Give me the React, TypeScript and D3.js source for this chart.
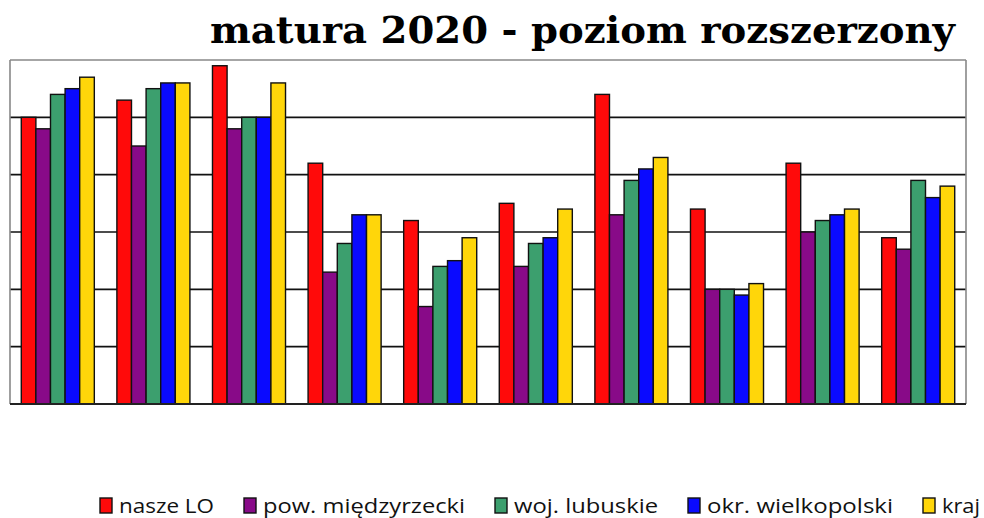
import React, { useEffect, useRef } from 'react'
import * as d3 from 'd3'

const categories = ['1', '2', '3', '4', '5', '6', '7', '8', '9', '10']
const seriesNames = ['nasze LO', 'pow. międzyrzecki', 'woj. lubuskie', 'okr. wielkopolski', 'kraj']
const naszeLO = [50, 53, 59, 42, 32, 35, 54, 34, 42, 29]
const powMiedzyrzecki = [48, 45, 48, 23, 17, 24, 33, 20, 30, 27]
const wojLubuskie = [54, 55, 50, 28, 24, 28, 39, 20, 32, 39]
const okrWielkopolski = [55, 56, 50, 33, 25, 29, 41, 19, 33, 36]
const kraj = [57, 56, 56, 33, 29, 34, 43, 21, 34, 38]
const yTicks = [0, 10, 20, 30, 40, 50, 60]
const colors = ['#ff0a0a', '#880a88', '#3c9f6e', '#0a0aff', '#ffd60a']

// legend marker x positions, as laid out in the original
const legendX = [100, 244, 495, 688, 923]

export default function App () {
  const ref = useRef<SVGSVGElement>(null)

  useEffect(() => {
    const values = [naszeLO, powMiedzyrzecki, wojLubuskie, okrWielkopolski, kraj]
    const svg = d3.select(ref.current)
    svg.selectAll('*').remove()

    const left = 10, right = 966, top = 60, bottom = 404

    const x0 = d3.scaleBand().domain(categories).range([left, right]).paddingInner(0.236).paddingOuter(0.118)
    const x1 = d3.scaleBand().domain(seriesNames).range([0, x0.bandwidth()])
    const y = d3.scaleLinear().domain([0, 60]).range([bottom, top])

    // frame + gridlines
    const grid = svg.append('g')
    grid.selectAll('line.grid')
      .data(yTicks.slice(1, -1))
      .enter().append('line')
      .attr('x1', left).attr('x2', right)
      .attr('y1', d => y(d)).attr('y2', d => y(d))
      .attr('stroke', '#111').attr('stroke-width', 1.6)
    grid.append('line').attr('x1', left).attr('x2', right).attr('y1', top).attr('y2', top)
      .attr('stroke', '#888').attr('stroke-width', 1.6)
    grid.append('line').attr('x1', left).attr('x2', left).attr('y1', top).attr('y2', bottom)
      .attr('stroke', '#888').attr('stroke-width', 1.6)
    grid.append('line').attr('x1', right).attr('x2', right).attr('y1', top).attr('y2', bottom)
      .attr('stroke', '#888').attr('stroke-width', 1.6)

    // bars
    const groups = svg.append('g').selectAll('g')
      .data(categories)
      .enter().append('g')
      .attr('transform', d => `translate(${x0(d)},0)`)
    groups.selectAll('rect')
      .data((c, ci) => seriesNames.map((s, si) => ({ s, si, v: values[si][ci] })))
      .enter().append('rect')
      .attr('x', d => x1(d.s)!)
      .attr('width', x1.bandwidth())
      .attr('y', d => y(d.v))
      .attr('height', d => y(0) - y(d.v))
      .attr('fill', d => colors[d.si])
      .attr('stroke', '#111').attr('stroke-width', 1.4)

    svg.append('line').attr('x1', left).attr('x2', right).attr('y1', bottom).attr('y2', bottom)
      .attr('stroke', '#222').attr('stroke-width', 1.8)

    // title
    svg.append('text')
      .attr('x', 210).attr('y', 43)
      .attr('font-family', 'DejaVu Serif').attr('font-weight', 'bold').attr('font-size', 37)
      .attr('textLength', 745).attr('lengthAdjust', 'spacingAndGlyphs')
      .text('matura 2020 - poziom rozszerzony')

    // legend
    const legend = svg.append('g')
    seriesNames.forEach((name, i) => {
      const g = legend.append('g').attr('transform', `translate(${legendX[i]},0)`)
      g.append('rect').attr('width', 12).attr('height', 15).attr('y', 498)
        .attr('fill', colors[i]).attr('stroke', '#111').attr('stroke-width', 1.4)
      const next = i < legendX.length - 1 ? legendX[i + 1] - 30 : 980
      g.append('text').attr('x', 19).attr('y', 513)
        .attr('font-family', 'Open Sans').attr('font-size', 19.5).attr('fill', '#111')
        .attr('textLength', next - legendX[i] - 19).attr('lengthAdjust', 'spacingAndGlyphs')
        .text(name)
    })
  }, [])

  return (
    <svg ref={ref} width={984} height={518}
      style={{ position: 'absolute', left: 0, top: 0, background: '#fff' }} />
  )
}
